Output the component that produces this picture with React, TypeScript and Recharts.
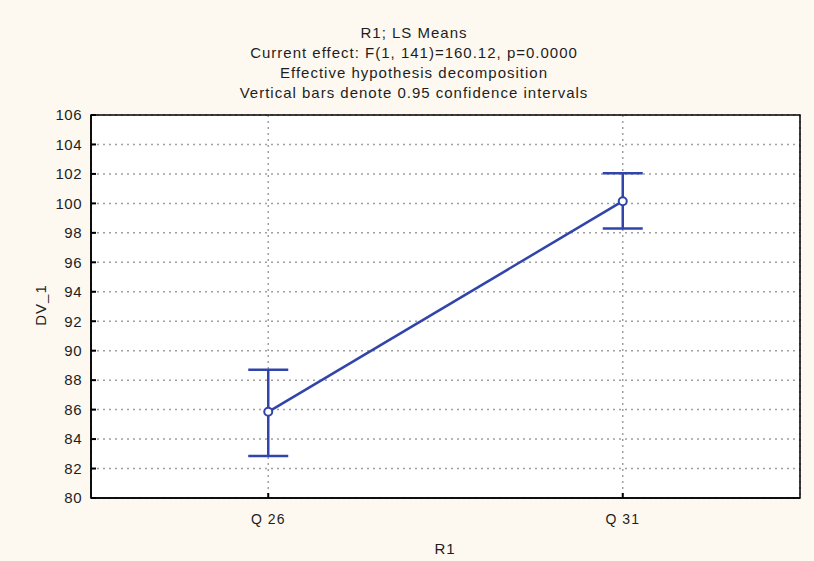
import React from 'react'
import { ComposedChart, Line, XAxis, YAxis, CartesianGrid, ErrorBar, ReferenceArea } from 'recharts'

const categories = ['Q 26', 'Q 31']
const means = [85.85, 100.15]
const ciLower = [82.85, 98.3]
const ciUpper = [88.7, 102.05]
const yTicks = [80, 82, 84, 86, 88, 90, 92, 94, 96, 98, 100, 102, 104, 106]

const titleLines = [
  'R1; LS Means',
  'Current effect: F(1, 141)=160.12, p=0.0000',
  'Effective hypothesis decomposition',
  'Vertical bars denote 0.95 confidence intervals',
]

const BLUE = '#3044aa'
const FONT = '"Liberation Sans", Arial, sans-serif'
const TEXT = '#1e1e1e'

const data = categories.map((name, i) => ({
  x: i,
  name,
  mean: means[i],
  err: [means[i] - ciLower[i], ciUpper[i] - means[i]],
}))

export default function App() {
  return (
    <div style={{ position: 'fixed', left: 0, top: 0, width: 814, height: 561, background: '#fdf9f1', fontFamily: FONT }}>
      <div style={{ position: 'absolute', left: 0, top: 23, width: 828, textAlign: 'center', fontSize: 15, letterSpacing: 1, lineHeight: '20px', color: TEXT }}>
        {titleLines.map(t => <div key={t}>{t}</div>)}
      </div>
      <div style={{
        position: 'absolute', left: 40, top: 305, fontSize: 15, letterSpacing: 1, color: TEXT,
        transform: 'translate(-50%, -50%) rotate(-90deg)', whiteSpace: 'nowrap',
      }}>DV_1</div>
      <div style={{ position: 'absolute', left: 445, top: 548, transform: 'translate(-50%, -50%)', fontSize: 15, letterSpacing: 1, color: TEXT }}>R1</div>
      {/* ticks point inward, so negative tick size with a wider margin for the labels */}
      <ComposedChart width={814} height={561} data={data} margin={{ top: 115, right: 14, bottom: 33, left: 31 }}>
        <CartesianGrid fill="#ffffff" stroke="#a0a0a0" strokeDasharray="2 4" strokeWidth={1.5} />
        <XAxis
          type="number" dataKey="x" domain={[-0.5, 1.5]} ticks={[0, 1]} height={30}
          tickFormatter={(i: number) => categories[i]}
          tick={{ fontSize: 14, fill: TEXT, fontFamily: FONT, letterSpacing: 1 }}
          tickSize={-5} tickMargin={21}
          axisLine={{ stroke: '#000', strokeWidth: 1.5 }} tickLine={{ stroke: '#000', strokeWidth: 2 }}
        />
        <YAxis
          type="number" domain={[80, 106]} ticks={yTicks} width={60} interval={0}
          tick={{ fontSize: 15, fill: TEXT, fontFamily: FONT, letterSpacing: 0.5 }}
          tickSize={-5} tickMargin={14}
          axisLine={{ stroke: '#000', strokeWidth: 1.5 }} tickLine={{ stroke: '#000', strokeWidth: 2 }}
        />
        <ReferenceArea x1={-0.5} x2={1.5} y1={80} y2={106} fill="none" stroke="#000" strokeWidth={1.5} />
        <Line
          dataKey="mean" stroke={BLUE} strokeWidth={2.5} isAnimationActive={false}
          dot={{ r: 4, fill: '#fff', stroke: BLUE, strokeWidth: 2 }}
        >
          <ErrorBar dataKey="err" direction="y" width={20} stroke={BLUE} strokeWidth={2.5} isAnimationActive={false} />
        </Line>
      </ComposedChart>
    </div>
  )
}
